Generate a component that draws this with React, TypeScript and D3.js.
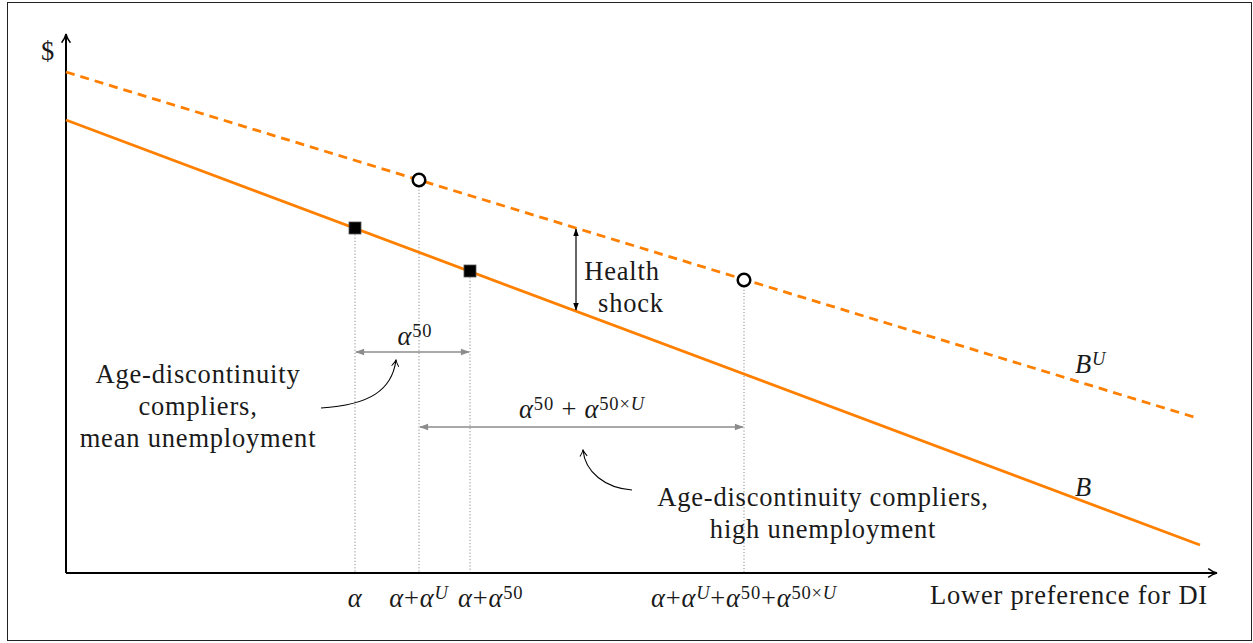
import React from "react";
import * as d3 from "d3";

// model units
const bLine = [
  { x: 0, y: 4.53 },
  { x: 11.34, y: 0.28 },
];
const buLine = [
  { x: 0, y: 5.01 },
  { x: 11.31, y: 1.55 },
];
const squares = [
  { x: 2.89, y: 3.45 },
  { x: 4.04, y: 3.02 },
];
const circles = [
  { x: 3.53, y: 3.93 },
  { x: 6.78, y: 2.93 },
];
const dropLines = [
  { x: 2.89, y: 3.45 },
  { x: 3.53, y: 3.93 },
  { x: 4.04, y: 3.02 },
  { x: 6.78, y: 2.93 },
];
const healthShock = { x: 5.1, top: 3.45, bottom: 2.62 };
const spanA = { from: 2.89, to: 4.04, y: 2.21 };
const spanB = { from: 3.53, to: 6.78, y: 1.46 };

const W = 1253;
const H = 643;
const ORANGE = "#ff8000";
const GRAY = "#8c8c8c";
const FONT = "'Liberation Serif', 'Times New Roman', serif";

const x = d3.scaleLinear().domain([0, 11.52]).range([66, 1218]);
const y = d3.scaleLinear().domain([0, 5.4]).range([573, 33]);

const line = d3
  .line<{ x: number; y: number }>()
  .x((d) => x(d.x))
  .y((d) => y(d.y));

const Sup: React.FC<{ children: React.ReactNode; italic?: boolean }> = ({ children, italic }) => (
  <tspan baselineShift="42%" fontSize="0.7em" fontStyle={italic ? "italic" : "normal"}>
    {children}
  </tspan>
);
const I: React.FC<{ children: React.ReactNode }> = ({ children }) => (
  <tspan fontStyle="italic">{children}</tspan>
);

const App: React.FC = () => {
  const fs = 26.5;
  const ls = 0.8;
  const curveA = d3.path();
  curveA.moveTo(321, 408);
  curveA.bezierCurveTo(370, 405, 392, 390, 396, 360);
  const curveB = d3.path();
  curveB.moveTo(632, 490);
  curveB.bezierCurveTo(605, 488, 585, 472, 583, 450);

  return (
    <svg
      width={W}
      height={H}
      style={{ position: "absolute", left: 0, top: 0, background: "#fff" }}
      fontFamily={FONT}
      letterSpacing={ls}
      fill="#1a1a1a"
    >
      <defs>
        <marker id="blk" viewBox="0 0 10 10" refX="9" refY="5" markerWidth="11" markerHeight="11" orient="auto-start-reverse" markerUnits="userSpaceOnUse">
          <path d="M1,1 Q5,4 9,5 Q5,6 1,9" fill="none" stroke="#000" strokeWidth="1.3" />
        </marker>
        <marker id="tri" viewBox="0 0 10 10" refX="9" refY="5" markerWidth="8" markerHeight="8" orient="auto-start-reverse" markerUnits="userSpaceOnUse">
          <path d="M0,1.5 L10,5 L0,8.5 z" fill="#000" />
        </marker>
        <marker id="gtri" viewBox="0 0 10 10" refX="9" refY="5" markerWidth="10" markerHeight="9" orient="auto-start-reverse" markerUnits="userSpaceOnUse">
          <path d="M0,1.5 L10,5 L0,8.5 z" fill={GRAY} />
        </marker>
        <marker id="thin" viewBox="0 0 10 10" refX="9" refY="5" markerWidth="9" markerHeight="9" orient="auto" markerUnits="userSpaceOnUse">
          <path d="M2,1 Q6,4 9,5 Q6,6 2,9" fill="none" stroke="#000" strokeWidth="1.1" />
        </marker>
      </defs>

      <rect x={7.5} y={2.5} width={1244} height={638} fill="none" stroke="#222" strokeWidth={1} />

      {/* drop lines */}
      {dropLines.map((d, i) => (
        <line key={i} x1={x(d.x)} x2={x(d.x)} y1={y(d.y)} y2={y(0)} stroke={GRAY} strokeWidth={1} strokeDasharray="1.2 2" />
      ))}

      {/* axes */}
      <line x1={x(0)} x2={1217} y1={y(0)} y2={y(0)} stroke="#000" strokeWidth={2} markerEnd="url(#blk)" />
      <line x1={x(0)} x2={x(0)} y1={y(0)} y2={34} stroke="#000" strokeWidth={2} markerEnd="url(#blk)" />

      {/* budget lines */}
      <path d={line(buLine) ?? ""} fill="none" stroke={ORANGE} strokeWidth={2.8} strokeDasharray="9 6" />
      <path d={line(bLine) ?? ""} fill="none" stroke={ORANGE} strokeWidth={2.8} />

      {/* health shock */}
      <line x1={x(healthShock.x)} x2={x(healthShock.x)} y1={y(healthShock.top) + 1} y2={y(healthShock.bottom) - 1} stroke="#000" strokeWidth={1.2} markerStart="url(#tri)" markerEnd="url(#tri)" />
      <text x={622} y={280} fontSize={fs} textAnchor="middle">Health</text>
      <text x={631} y={312} fontSize={fs} textAnchor="middle">shock</text>

      {/* markers */}
      {squares.map((d, i) => (
        <rect key={i} x={x(d.x) - 6} y={y(d.y) - 6} width={12} height={12} fill="#000" stroke="#555" strokeWidth={0.8} />
      ))}
      {circles.map((d, i) => (
        <circle key={i} cx={x(d.x)} cy={y(d.y)} r={6.3} fill="#fff" stroke="#000" strokeWidth={2.5} />
      ))}

      {/* spans */}
      <line x1={x(spanA.from) + 1} x2={x(spanA.to) - 1} y1={y(spanA.y)} y2={y(spanA.y)} stroke={GRAY} strokeWidth={1.3} markerStart="url(#gtri)" markerEnd="url(#gtri)" />
      <text x={415} y={345} fontSize={fs} textAnchor="middle">
        <I>α</I>
        <Sup>50</Sup>
      </text>
      <line x1={x(spanB.from) + 1} x2={x(spanB.to) - 1} y1={y(spanB.y)} y2={y(spanB.y)} stroke={GRAY} strokeWidth={1.3} markerStart="url(#gtri)" markerEnd="url(#gtri)" />
      <text x={582} y={418} fontSize={fs} textAnchor="middle">
        <I>α</I>
        <Sup>50</Sup> + <I>α</I>
        <Sup>50×<tspan fontStyle="italic">U</tspan></Sup>
      </text>

      {/* annotations */}
      <path d={curveA.toString()} fill="none" stroke="#000" strokeWidth={1.1} markerEnd="url(#thin)" />
      <path d={curveB.toString()} fill="none" stroke="#000" strokeWidth={1.1} markerEnd="url(#thin)" />
      <g fontSize={fs} textAnchor="middle">
        <text x={198} y={383}>Age-discontinuity</text>
        <text x={198} y={415}>compliers,</text>
        <text x={198} y={447}>mean unemployment</text>
        <text x={823} y={506}>Age-discontinuity compliers,</text>
        <text x={823} y={538}>high unemployment</text>
      </g>

      {/* curve labels */}
      <text x={1075} y={373} fontSize={fs}>
        <I>B</I>
        <Sup italic>U</Sup>
      </text>
      <text x={1075} y={496} fontSize={fs}>
        <I>B</I>
      </text>

      {/* tick labels */}
      <g fontSize={fs}>
        <text x={x(dropLines[0].x)} y={607} textAnchor="middle"><I>α</I></text>
        <text x={x(dropLines[1].x)} y={607} textAnchor="middle">
          <I>α</I>+<I>α</I><Sup italic>U</Sup>
        </text>
        <text x={x(dropLines[2].x) - 12} y={607} textAnchor="start">
          <I>α</I>+<I>α</I><Sup>50</Sup>
        </text>
        <text x={x(dropLines[3].x)} y={607} textAnchor="middle">
          <I>α</I>+<I>α</I><Sup italic>U</Sup>+<I>α</I><Sup>50</Sup>+<I>α</I>
          <Sup>50×<tspan fontStyle="italic">U</tspan></Sup>
        </text>
        <text x={1208} y={604} textAnchor="end">Lower preference for DI</text>
        <text x={55} y={60} textAnchor="end">$</text>
      </g>
    </svg>
  );
};

export default App;
